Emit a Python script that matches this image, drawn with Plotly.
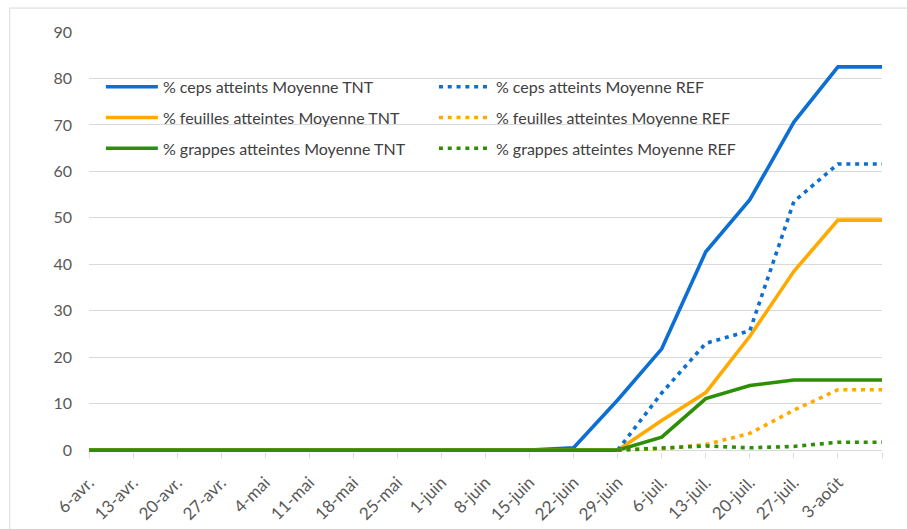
import plotly.graph_objects as go

# Weekly observation dates (last week has no printed label)
dates = ["6-avr.", "13-avr.", "20-avr.", "27-avr.", "4-mai", "11-mai", "18-mai",
         "25-mai", "1-juin", "8-juin", "15-juin", "22-juin", "29-juin", "6-juil.",
         "13-juil.", "20-juil.", "27-juil.", "3-août", ""]

ceps_tnt = [0, 0, 0, 0, 0, 0, 0, 0, 0, 0, 0, 0.5, 10.8, 21.8, 42.7, 53.9, 70.6, 82.5, 82.5]
feuilles_tnt = [0, 0, 0, 0, 0, 0, 0, 0, 0, 0, 0, 0, 0, 6.4, 12.4, 24.5, 38.5, 49.5, 49.5]
grappes_tnt = [0, 0, 0, 0, 0, 0, 0, 0, 0, 0, 0, 0, 0, 2.8, 11.1, 13.9, 15.1, 15.1, 15.1]

ceps_ref = [None] * 12 + [0, 12.3, 23.0, 25.7, 53.5, 61.6, 61.6]
feuilles_ref = [None] * 12 + [0, 0.3, 1.2, 3.6, 8.6, 13.0, 13.0]
grappes_ref = [None] * 12 + [0, 0.5, 0.9, 0.5, 0.8, 1.7, 1.7]

BLUE = "#0B6FD3"
ORANGE = "#FFAA00"
GREEN = "#2D8F05"
FONT = "Lato"
DOT = "4px,4.8px"

x = list(range(len(dates)))

series = [
    ("% ceps atteints Moyenne TNT", ceps_tnt, BLUE, "solid", "legend"),
    ("% feuilles atteintes Moyenne TNT", feuilles_tnt, ORANGE, "solid", "legend"),
    ("% grappes atteintes Moyenne TNT", grappes_tnt, GREEN, "solid", "legend"),
    ("% ceps atteints Moyenne REF", ceps_ref, BLUE, DOT, "legend2"),
    ("% feuilles atteintes Moyenne REF", feuilles_ref, ORANGE, DOT, "legend2"),
    ("% grappes atteintes Moyenne REF", grappes_ref, GREEN, DOT, "legend2"),
]

fig = go.Figure()
for i, (name, vals, color, dash, leg) in enumerate(series):
    fig.add_trace(go.Scatter(
        x=x, y=vals, name=name, mode="lines",
        line=dict(color=color, width=3.6, dash=dash),
        legend=leg, legendgroup=f"g{i}",
    ))

legend_common = dict(
    orientation="v", traceorder="grouped", tracegroupgap=7,
    bgcolor="rgba(0,0,0,0)", borderwidth=0, itemwidth=52,
    font=dict(family=FONT, size=16, color="#404040"),
    xanchor="left", yanchor="top",
)

fig.update_layout(
    width=907, height=529,
    margin=dict(l=89, r=25, t=32, b=77),
    paper_bgcolor="white", plot_bgcolor="white",
    showlegend=True,
    legend=dict(x=0.015, y=0.91, **legend_common),
    legend2=dict(x=0.435, y=0.91, **legend_common),
    xaxis=dict(
        range=[0, 18], tickmode="array", tickvals=x, ticktext=dates,
        tickangle=-45, showgrid=False, zeroline=False, showline=False,
        ticks="outside", ticklen=5, tickcolor="#d9d9d9",
        ticklabelstandoff=8, automargin=False,
        tickfont=dict(family=FONT, size=17, color="#595959"),
    ),
    yaxis=dict(
        range=[-0.4, 90], tick0=0, dtick=10, showgrid=True,
        gridcolor="#d9d9d9", gridwidth=1,
        zeroline=True, zerolinecolor="#d9d9d9", zerolinewidth=1,
        showline=False, ticks="", ticklabelstandoff=16, automargin=False,
        tickfont=dict(family=FONT, size=16, color="#595959"),
    ),
    shapes=[dict(type="rect", xref="paper", yref="paper",
                 x0=-0.1, x1=1.2, y0=-0.3, y1=1.057,
                 line=dict(color="#d9d9d9", width=1))],
)

fig.write_html("out.html")
